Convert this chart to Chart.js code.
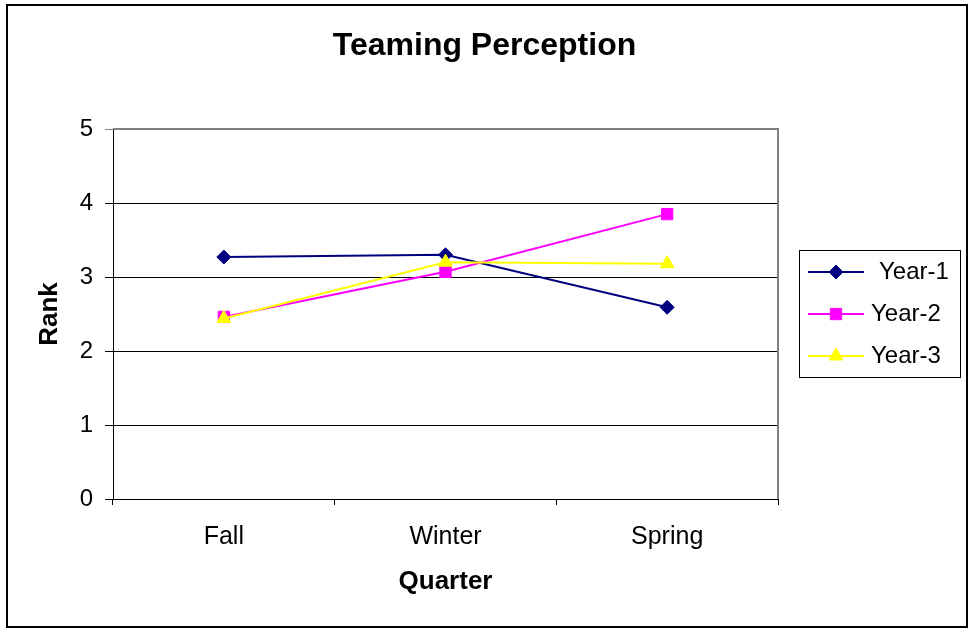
<!DOCTYPE html>
<html>
<head>
<meta charset="utf-8">
<script src="https://cdn.jsdelivr.net/npm/chart.js@4/dist/chart.umd.min.js"></script>
<style>
html,body{margin:0;padding:0;background:#fff;}
#wrap{position:relative;width:969px;height:629px;}
</style>
</head>
<body>
<div id="wrap"><canvas id="c" width="969" height="629"></canvas></div>
<script>
const categories = ["Fall", "Winter", "Spring"];
const year1 = [3.27, 3.30, 2.59];
const year2 = [2.46, 3.07, 3.85];
const year3 = [2.44, 3.20, 3.18];
const seriesNames = ["Year-1", "Year-2", "Year-3"];
const yTicks = [0, 1, 2, 3, 4, 5];

const FONT = "'Liberation Sans', Arial, sans-serif";
const colors = ["#000080", "#FF00FF", "#FFFF00"];
const markers = ["rectRot", "rect", "triangle"];
const markerSize = [7, 8, 8];

const frame = {
  id: 'frame',
  beforeDraw(chart) {
    const ctx = chart.ctx;
    ctx.save();
    ctx.fillStyle = '#fff';
    ctx.fillRect(0, 0, chart.width, chart.height);
    ctx.strokeStyle = '#000';
    ctx.lineWidth = 2;
    ctx.strokeRect(7, 5, 960, 622);
    ctx.restore();
  },
  beforeDatasetsDraw(chart) {
    const ctx = chart.ctx;
    const a = chart.chartArea;
    ctx.save();
    ctx.strokeStyle = '#808080';
    ctx.lineWidth = 2;
    ctx.beginPath();
    ctx.moveTo(a.left, a.top);
    ctx.lineTo(a.right, a.top);
    ctx.lineTo(a.right, a.bottom);
    ctx.stroke();
    ctx.restore();
  },
  afterDraw(chart) {
    const ctx = chart.ctx;
    ctx.save();
    const bx = 799, by = 250, bw = 161, bh = 127;
    ctx.strokeStyle = '#000';
    ctx.lineWidth = 1;
    ctx.strokeRect(bx + 0.5, by + 0.5, bw, bh);
    const rows = [272, 314, 356];
    chart.data.datasets.forEach((ds, i) => {
      const y = rows[i];
      ctx.strokeStyle = ds.borderColor;
      ctx.lineWidth = 2;
      ctx.beginPath();
      ctx.moveTo(808, y);
      ctx.lineTo(864, y);
      ctx.stroke();
      ctx.fillStyle = ds.backgroundColor;
      ctx.lineWidth = 1;
      Chart.helpers.drawPoint(ctx, {pointStyle: ds.pointStyle, radius: ds.pointRadius, borderWidth: 1}, 836, y);
      ctx.fillStyle = '#000';
      ctx.font = '24px ' + FONT;
      ctx.textBaseline = 'middle';
      ctx.textAlign = 'left';
      ctx.fillText(ds.label, i === 0 ? 879 : 871, y);
    });
    ctx.restore();
  }
};

const datasets = [year1, year2, year3].map((d, i) => ({
  label: seriesNames[i],
  data: d,
  order: 3 - i,
  borderColor: colors[i],
  backgroundColor: colors[i],
  pointStyle: markers[i],
  pointRadius: markerSize[i],
  pointHoverRadius: markerSize[i],
  pointBorderWidth: 1,
  borderWidth: 2,
  tension: 0,
  fill: false
}));

new Chart(document.getElementById('c'), {
  type: 'line',
  data: { labels: categories, datasets },
  plugins: [frame],
  options: {
    responsive: false,
    animation: false,
    events: [],
    layout: { padding: 0 },
    plugins: {
      legend: { display: false },
      tooltip: { enabled: false },
      title: {
        display: true,
        text: 'Teaming Perception',
        color: '#000',
        font: { family: FONT, size: 32, weight: 'bold' },
        padding: { top: 27, bottom: 63.6 }
      }
    },
    scales: {
      x: {
        offset: true,
        grid: { offset: true, drawOnChartArea: false, drawTicks: true, tickLength: 6, color: '#000', lineWidth: 1 },
        border: { color: '#000', width: 1 },
        ticks: { color: '#000', font: { family: FONT, size: 25 }, padding: 17 },
        title: { display: true, text: 'Quarter', color: '#000', font: { family: FONT, size: 26, weight: 'bold' }, padding: { top: 10, bottom: 32 } },
        afterFit(s) { s.height = 629 - 499; }
      },
      y: {
        min: 0, max: 5,
        afterBuildTicks(s) { s.ticks = yTicks.map(v => ({ value: v })); },
        grid: {
          color: ctx => ctx.tick && ctx.tick.value === 5 ? '#808080' : '#000',
          lineWidth: 1,
          tickLength: 8
        },
        border: { color: '#000', width: 1 },
        ticks: { color: '#000', font: { family: FONT, size: 24 }, padding: 12 },
        title: { display: true, text: 'Rank', color: '#000', font: { family: FONT, size: 26, weight: 'bold' }, padding: { top: 34, bottom: 10 } },
        afterFit(s) { s.width = 113; }
      },
      legendSpace: {
        type: 'linear',
        position: 'right',
        display: true,
        grid: { display: false },
        border: { display: false },
        ticks: { display: false },
        afterFit(s) { s.width = 969 - 778; }
      }
    }
  }
});
</script>
</body>
</html>
